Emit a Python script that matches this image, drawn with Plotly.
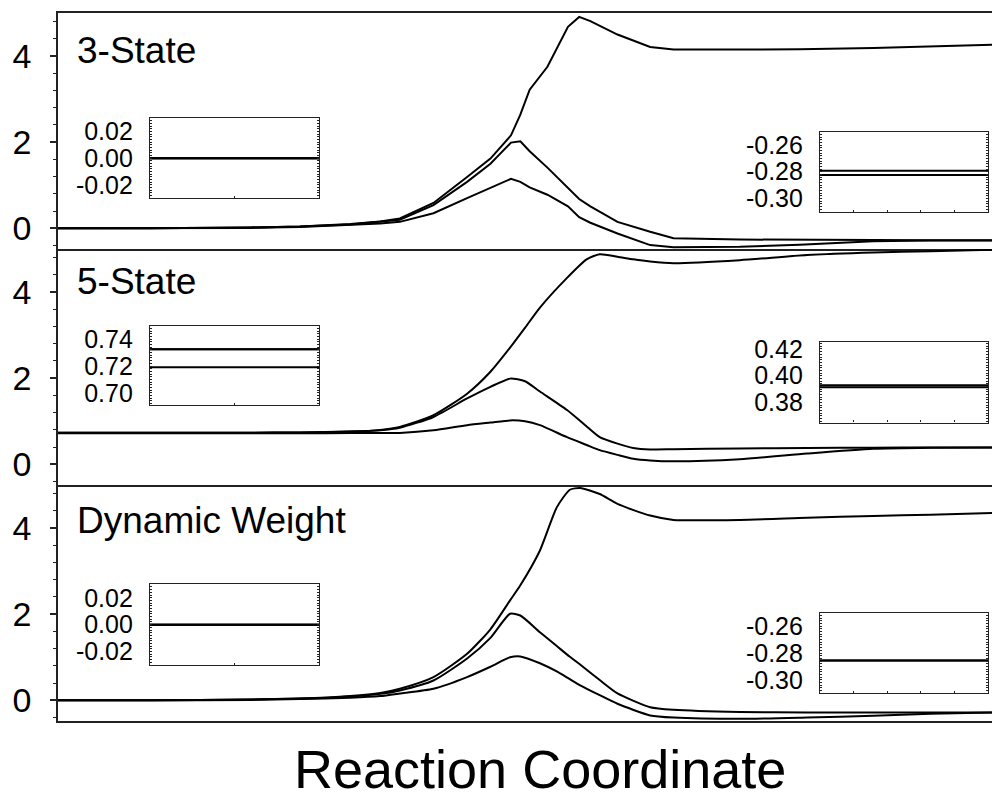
import plotly.graph_objects as go

# Reaction coordinate samples (arbitrary units, 0-100) and free-energy curves
# for the three weighting schemes: upper, middle and lower curve of each panel.
x_3state = [0, 9.9, 20.6, 25.9, 31.3, 34.5, 36.6, 40.2, 43.8, 46.3, 48.5, 49.5, 50.5,
            52.4, 54.6, 55.8, 57.0, 59.9, 63.4, 65.9, 73.0, 79.4, 87.3, 93.4, 100]
upper_3state = [0, 0, 0.02, 0.04, 0.10, 0.16, 0.23, 0.59, 1.19, 1.62, 2.16, 2.64, 3.22,
                3.75, 4.68, 4.91, 4.81, 4.50, 4.21, 4.15, 4.15, 4.16, 4.19, 4.22, 4.26]
middle_3state = [0, 0, 0.02, 0.04, 0.09, 0.15, 0.20, 0.54, 1.08, 1.50, 1.99, 2.02, 1.79,
                 1.41, 0.95, 0.68, 0.51, 0.15, -0.08, -0.23, -0.26, -0.27, -0.275, -0.278, -0.2792]
lower_3state = [0, 0, 0.01, 0.03, 0.07, 0.11, 0.15, 0.35, 0.70, 0.93, 1.15, 1.08, 0.95,
                0.78, 0.51, 0.26, 0.13, -0.12, -0.39, -0.44, -0.43, -0.38, -0.30, -0.285, -0.2825]

x_5state = [0, 9.9, 20.6, 25.9, 31.3, 34.5, 36.6, 40.2, 43.8, 46.3, 48.4, 50.0, 51.6,
            54.5, 56.6, 58.0, 59.9, 61.6, 63.4, 65.9, 73.0, 80.2, 87.3, 93.4, 100]
upper_5state = [0.7325, 0.7325, 0.735, 0.74, 0.76, 0.80, 0.87, 1.14, 1.64, 2.15, 2.71, 3.17, 3.64,
                4.33, 4.76, 4.88, 4.82, 4.76, 4.71, 4.67, 4.74, 4.86, 4.92, 4.95, 4.98]
middle_5state = [0.7325, 0.7325, 0.735, 0.74, 0.76, 0.79, 0.85, 1.10, 1.53, 1.80, 1.99, 1.93, 1.69,
                 1.26, 0.88, 0.63, 0.48, 0.38, 0.345, 0.35, 0.37, 0.38, 0.386, 0.39, 0.3928]
lower_5state = [0.719, 0.719, 0.72, 0.722, 0.725, 0.728, 0.73, 0.79, 0.91, 0.97, 1.02, 1.00, 0.91,
                0.63, 0.45, 0.33, 0.22, 0.13, 0.09, 0.07, 0.12, 0.25, 0.36, 0.385, 0.3913]

x_dynamic = [0, 9.9, 20.6, 25.9, 31.3, 34.5, 36.6, 40.2, 43.8, 46.3, 48.4, 49.5, 51.6,
             53.4, 54.8, 55.9, 58.0, 59.9, 63.4, 65.9, 73.0, 80.2, 87.3, 93.4, 100]
upper_dynamic = [0, 0, 0.02, 0.04, 0.10, 0.17, 0.27, 0.54, 1.08, 1.65, 2.32, 2.67, 3.48,
                 4.48, 4.89, 4.93, 4.79, 4.56, 4.29, 4.19, 4.19, 4.24, 4.28, 4.31, 4.35]
middle_dynamic = [0, 0, 0.02, 0.04, 0.09, 0.15, 0.23, 0.46, 0.97, 1.45, 2.01, 1.97, 1.58,
                  1.26, 1.01, 0.83, 0.47, 0.16, -0.16, -0.22, -0.27, -0.28, -0.283, -0.285, -0.2855]
lower_dynamic = [0, 0, 0.01, 0.03, 0.06, 0.10, 0.16, 0.27, 0.54, 0.78, 1.00, 1.02, 0.86,
                 0.67, 0.49, 0.35, 0.12, -0.08, -0.35, -0.40, -0.43, -0.40, -0.36, -0.31, -0.2855]

panel_names = ["3-State", "5-State", "Dynamic Weight"]

# Inset axis ticks (left inset: start of the path, right inset: end of the path)
left_inset_ticks = [[-0.02, 0.00, 0.02], [0.70, 0.72, 0.74], [-0.02, 0.00, 0.02]]
left_inset_ranges = [[-0.03, 0.03], [0.691, 0.750], [-0.03, 0.03]]
right_inset_ticks = [[-0.30, -0.28, -0.26], [0.38, 0.40, 0.42], [-0.30, -0.28, -0.26]]
right_inset_ranges = [[-0.31, -0.25], [0.365, 0.425], [-0.31, -0.25]]

main_ticks = [0, 2, 4]
main_range = [-0.48, 5.0]

# (x, curves, line shape): the 3-state profile is piecewise linear, the others smooth
panels = [
    (x_3state, [upper_3state, middle_3state, lower_3state], "linear"),
    (x_5state, [upper_5state, middle_5state, lower_5state], "spline"),
    (x_dynamic, [upper_dynamic, middle_dynamic, lower_dynamic], "spline"),
]

W, H = 992, 801
FONT = "Liberation Sans, Arial, sans-serif"
LINE = "#222222"


def py(pix):
    """Pixel row -> paper y."""
    return 1 - pix / H


# Panel frames in pixel rows (top, bottom)
panel_rows = [(13, 249), (249, 485), (485, 721)]
main_x_domain = [58 / W, 1.0]
left_inset_x = [150 / W, 319 / W]
right_inset_x = [820 / W, 988 / W]
left_inset_rows = [(118, 198.3), (325.7, 405), (584.3, 665)]
right_inset_rows = [(131.7, 211.7), (342.3, 422.5), (612.7, 693.3)]
label_rows = [50, 281, 520]

fig = go.Figure()
layout = dict(
    width=W, height=H,
    margin=dict(l=0, r=0, t=0, b=0, autoexpand=False),
    paper_bgcolor="white", plot_bgcolor="rgba(0,0,0,0)",
    showlegend=False,
    font=dict(family=FONT, color="black"),
)

annotations = []
for i, (xs, curves, shape) in enumerate(panels):
    n_main = i + 1
    n_left = 4 + 2 * i
    n_right = 5 + 2 * i

    # main panel curves
    for ys in curves:
        fig.add_trace(go.Scatter(x=xs, y=ys, mode="lines",
                                 line=dict(color="black", width=2, shape=shape, smoothing=0.6),
                                 xaxis=f"x{n_main}", yaxis=f"y{n_main}"))

    top, bot = panel_rows[i]
    layout[f"xaxis{n_main}"] = dict(
        domain=main_x_domain, range=[0, 100], anchor=f"y{n_main}", automargin=False,
        showline=True, mirror=(i == 0), linecolor=LINE, linewidth=1.5,
        ticks="", showticklabels=False, showgrid=False, zeroline=False)
    layout[f"yaxis{n_main}"] = dict(
        domain=[py(bot), py(top)], range=main_range, anchor=f"x{n_main}", automargin=False,
        tickvals=main_ticks, ticks="outside", ticklen=6, tickwidth=1.5, tickcolor=LINE,
        minor=dict(dtick=0.4, tick0=0, ticks="outside", ticklen=3, tickwidth=1.2, tickcolor=LINE),
        showline=True, mirror=False, linecolor=LINE, linewidth=1.5,
        showgrid=False, zeroline=False,
        tickfont=dict(size=34, family=FONT, color="black"), ticklabelstandoff=12)

    # left inset: values at the start of the path
    starts = [ys[0] for ys in curves]
    for v in starts:
        fig.add_trace(go.Scatter(x=[0, 1], y=[v, v], mode="lines",
                                 line=dict(color="black", width=2),
                                 xaxis=f"x{n_left}", yaxis=f"y{n_left}"))
    # right inset: values at the end of the path (lower two curves)
    ends = [ys[-1] for ys in curves[1:]]
    for v in ends:
        fig.add_trace(go.Scatter(x=[0, 1], y=[v, v], mode="lines",
                                 line=dict(color="black", width=2),
                                 xaxis=f"x{n_right}", yaxis=f"y{n_right}"))

    for n, xdom, rows, ticks, rng, xdt in [
        (n_left, left_inset_x, left_inset_rows[i], left_inset_ticks[i], left_inset_ranges[i], 0.5),
        (n_right, right_inset_x, right_inset_rows[i], right_inset_ticks[i], right_inset_ranges[i], 0.2),
    ]:
        t, b = rows
        layout[f"xaxis{n}"] = dict(
            domain=xdom, range=[0, 1], anchor=f"y{n}", automargin=False,
            showline=True, mirror=True, linecolor=LINE, linewidth=1.2,
            ticks="inside", tick0=0, dtick=xdt, ticklen=2, tickwidth=1, tickcolor=LINE,
            showticklabels=False, showgrid=False, zeroline=False)
        layout[f"yaxis{n}"] = dict(
            domain=[py(b), py(t)], range=rng, anchor=f"x{n}", automargin=False,
            tickvals=ticks, ticktext=[f"{v:.2f}" for v in ticks],
            ticks="inside", ticklen=2, tickwidth=1, tickcolor=LINE,
            minor=dict(dtick=0.002, ticks="inside", ticklen=1.5, tickwidth=0.8, tickcolor=LINE),
            showline=True, mirror="ticks", linecolor=LINE, linewidth=1.2,
            showgrid=False, zeroline=False,
            tickfont=dict(size=25, family=FONT, color="black"), ticklabelstandoff=11)

    annotations.append(dict(
        text=panel_names[i], x=75 / W, y=py(label_rows[i]), xref="paper", yref="paper",
        xanchor="left", yanchor="middle", showarrow=False,
        font=dict(size=37, family=FONT, color="black")))

annotations.append(dict(
    text="Reaction Coordinate", x=540 / W, y=py(769), xref="paper", yref="paper",
    xanchor="center", yanchor="middle", showarrow=False,
    font=dict(size=54, family=FONT, color="black")))

layout["annotations"] = annotations
fig.update_layout(**layout)
fig.write_html("out.html")
